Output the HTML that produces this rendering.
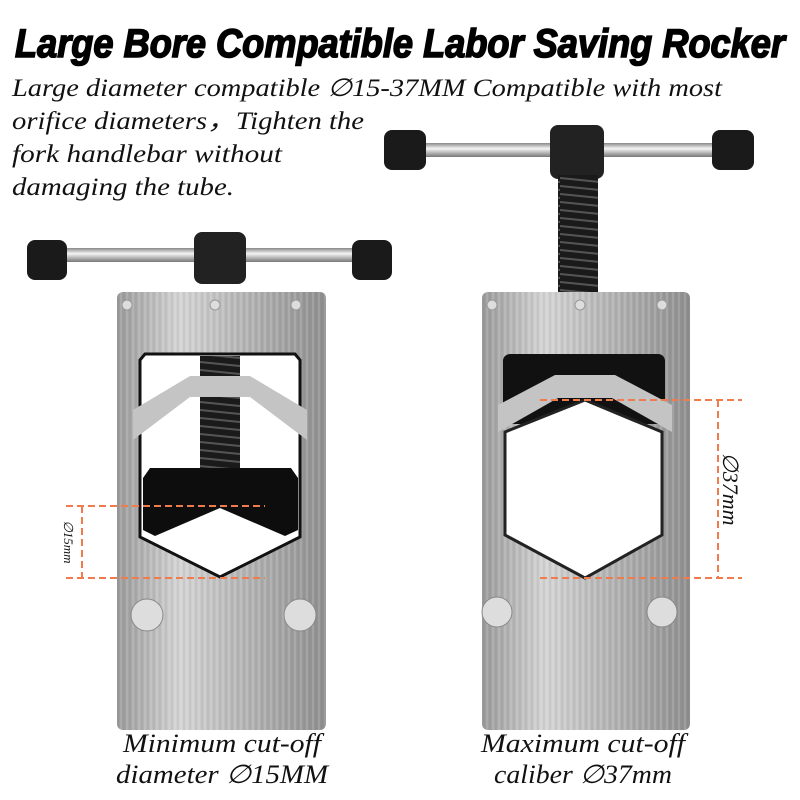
<!DOCTYPE html>
<html><head><meta charset="utf-8"><style>
html,body{margin:0;padding:0;background:#fff;width:800px;height:800px;overflow:hidden}
</style></head><body>
<svg width="800" height="800" viewBox="0 0 800 800" xmlns="http://www.w3.org/2000/svg">
<defs>
<linearGradient id="metal" x1="0" y1="0" x2="1" y2="0">
<stop offset="0" stop-color="#9a9a9a"/><stop offset="0.3" stop-color="#d4d4d4"/><stop offset="0.6" stop-color="#b5b5b5"/><stop offset="1" stop-color="#8e8e8e"/>
</linearGradient>
<linearGradient id="bar" x1="0" y1="0" x2="0" y2="1">
<stop offset="0" stop-color="#888"/><stop offset="0.4" stop-color="#f4f4f4"/><stop offset="1" stop-color="#777"/>
</linearGradient>
<pattern id="brush" width="6" height="800" patternUnits="userSpaceOnUse">
<line x1="1" y1="0" x2="1" y2="800" stroke="#fff" stroke-opacity="0.25"/>
<line x1="4" y1="0" x2="4" y2="800" stroke="#555" stroke-opacity="0.15"/>
</pattern>
<pattern id="thread" width="40" height="8" patternUnits="userSpaceOnUse">
<rect width="40" height="8" fill="#1a1a1a"/><line x1="0" y1="2" x2="40" y2="6" stroke="#555" stroke-width="2"/>
</pattern>
</defs>

<text x="400" y="57" text-anchor="middle" font-family="Liberation Sans, sans-serif" font-weight="bold" font-style="italic" font-size="40" textLength="770" lengthAdjust="spacingAndGlyphs" fill="#000" stroke="#000" stroke-width="1.6">Large Bore Compatible Labor Saving Rocker</text>
<g font-family="Liberation Serif, serif" font-style="italic" font-size="25" fill="#111">
<text x="12" y="96" textLength="710" lengthAdjust="spacingAndGlyphs">Large diameter compatible ∅15-37MM Compatible with most</text>
<text x="12" y="129" textLength="352" lengthAdjust="spacingAndGlyphs">orifice diameters，Tighten the</text>
<text x="12" y="162" textLength="270" lengthAdjust="spacingAndGlyphs">fork handlebar without</text>
<text x="12" y="195" textLength="222" lengthAdjust="spacingAndGlyphs">damaging the tube.</text>
</g>

<!-- LEFT TOOL -->
<rect x="40" y="248" width="340" height="14" fill="url(#bar)"/>
<rect x="27" y="240" width="40" height="40" rx="8" fill="#1a1a1a"/>
<rect x="352" y="240" width="40" height="40" rx="8" fill="#1a1a1a"/>
<rect x="194" y="232" width="52" height="52" rx="8" fill="#222"/>
<rect x="117" y="292" width="209" height="438" rx="6" fill="url(#metal)"/>
<rect x="117" y="292" width="209" height="438" rx="6" fill="url(#brush)"/>
<polygon points="140,360 145,354 295,354 300,360 300,537 220,577 140,537" fill="#fff" stroke="#111" stroke-width="3"/>
<rect x="200" y="356" width="40" height="112" fill="url(#thread)"/>
<polygon points="133,410 190,376 250,376 307,410 307,440 250,397 190,397 133,440" fill="#c4c4c4"/>
<rect x="200" y="400" width="40" height="68" fill="url(#thread)"/>
<polygon points="143,478 150,468 291,468 298,478 298,530 285,536 220,508 155,536 143,530" fill="#0d0d0d"/>

<circle cx="147" cy="615" r="16" fill="#ddd" stroke="#888"/>
<circle cx="300" cy="615" r="16" fill="#ddd" stroke="#888"/>
<circle cx="127" cy="305" r="5" fill="#ddd" stroke="#999"/><circle cx="215" cy="305" r="5" fill="#ddd" stroke="#999"/><circle cx="296" cy="305" r="5" fill="#ddd" stroke="#999"/>

<!-- RIGHT TOOL -->
<rect x="400" y="143" width="340" height="14" fill="url(#bar)"/>
<rect x="384" y="130" width="42" height="40" rx="8" fill="#1a1a1a"/>
<rect x="712" y="130" width="42" height="40" rx="8" fill="#1a1a1a"/>
<rect x="550" y="125" width="54" height="54" rx="8" fill="#222"/>
<rect x="558" y="175" width="40" height="120" fill="url(#thread)"/>
<rect x="482" y="292" width="208" height="438" rx="6" fill="url(#metal)"/>
<rect x="482" y="292" width="208" height="438" rx="6" fill="url(#brush)"/>
<rect x="503" y="354" width="162" height="70" rx="7" fill="#111"/>
<polygon points="498,405 555,375 615,375 672,405 672,432 612,398 558,398 498,432" fill="#c4c4c4"/>
<polygon points="505,432 585,400 662,432 662,535 585,578 505,535" fill="#fff" stroke="#222" stroke-width="3"/>
<circle cx="497" cy="612" r="15" fill="#ddd" stroke="#888"/>
<circle cx="662" cy="612" r="15" fill="#ddd" stroke="#888"/>
<circle cx="492" cy="305" r="5" fill="#ddd" stroke="#999"/><circle cx="580" cy="305" r="5" fill="#ddd" stroke="#999"/><circle cx="662" cy="305" r="5" fill="#ddd" stroke="#999"/>

<!-- dimensions -->
<g stroke="#f07b4d" stroke-width="2" stroke-dasharray="7,4" fill="none">
<line x1="66" y1="506" x2="265" y2="506"/><line x1="66" y1="578" x2="265" y2="578"/><line x1="82" y1="506" x2="82" y2="578"/>
<line x1="540" y1="400" x2="742" y2="400"/><line x1="540" y1="578" x2="742" y2="578"/><line x1="718" y1="400" x2="718" y2="578"/>
</g>
<text transform="translate(64,542) rotate(90)" text-anchor="middle" font-family="Liberation Serif, serif" font-style="italic" font-size="13" fill="#111">∅15mm</text>
<text transform="translate(723,489) rotate(90)" text-anchor="middle" font-family="Liberation Serif, serif" font-style="italic" font-size="22" fill="#111">∅37mm</text>

<g font-family="Liberation Serif, serif" font-style="italic" font-size="26" fill="#111" text-anchor="middle">
<text x="222" y="752" textLength="198" lengthAdjust="spacingAndGlyphs">Minimum cut-off</text>
<text x="222" y="783" textLength="212" lengthAdjust="spacingAndGlyphs">diameter ∅15MM</text>
<text x="583" y="752" textLength="204" lengthAdjust="spacingAndGlyphs">Maximum cut-off</text>
<text x="583" y="783" textLength="178" lengthAdjust="spacingAndGlyphs">caliber ∅37mm</text>
</g>
</svg>
</body></html>
